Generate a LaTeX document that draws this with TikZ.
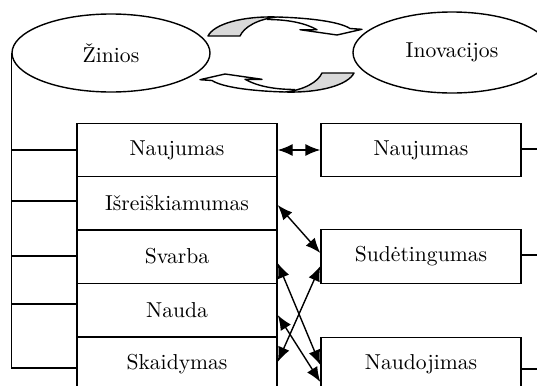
\documentclass[tikz,border=0pt]{standalone}
\usepackage{fontspec}
\usetikzlibrary{shapes.geometric,arrows.meta}
\begin{document}
\begin{tikzpicture}[x=0.5pt,y=-0.5pt,line width=0.7pt,
    every node/.style={font=\fontsize{10.8}{13}\selectfont},
    cell/.style={draw,minimum width=100pt,minimum height=26.75pt,inner sep=0pt},
    blob/.style={draw,ellipse,minimum width=99pt,minimum height=39pt,inner sep=0pt},
    link/.style={{Latex[length=7.5pt,width=6pt]}-{Latex[length=7.5pt,width=6pt]}}]
        \clip (0,0) rectangle (537,386);

        % Circular arrows
        \foreach \turn in {0,180}{
            \begin{scope}[rotate around={\turn:(281,54.5)}]
                \filldraw[fill=gray!30,line join=round] (208,36) .. controls (214,24) and (242,16) .. (277,17)
                    .. controls (258,19) and (244,27) .. (240,36) -- cycle;
                \draw[line join=round] (277,17) .. controls (312,18) and (340,22) .. (350,28.5) -- (362,29.3)
                    -- (337,35) -- (300,29.7) -- (317,29.7) .. controls (305,23) and (288,19.5) .. (267,19.5);
            \end{scope}
        }

        % Ellipses
        \node[blob] (zinios) at (111,53) {Žinios};
        \node[blob,minimum height=40.5pt] (inov) at (452,52.5) {Inovacijos};

        % Knowledge boxes
        \node[cell] (kn1) at (177,150) {Naujumas};
        \node[cell] (kn2) at (177,203.5) {Išreiškiamumas};
        \node[cell] (kn3) at (177,256.5) {Svarba};
        \node[cell] (kn4) at (177,310) {Nauda};
        \node[cell] (kn5) at (177,364) {Skaidymas};

        % Innovation boxes
        \node[cell] (in1) at (421,150) {Naujumas};
        \node[cell] (in2) at (421,256.5) {Sudėtingumas};
        \node[cell] (in3) at (421,364) {Naudojimas};

        % Left bracket
        \draw (zinios.west) -- (zinios.west |- 0,368);
        \foreach \k/\y in {1/150,2/201,3/256,4/304,5/368}
            \draw (zinios.west |- 0,\y) -- (kn\k.west |- 0,\y);

        % Right stubs
        \foreach \k/\y in {1/149,2/255,3/369}
            \draw (in\k.east |- 0,\y) -- ++(20,0);

        % Links
        \draw[link] (kn1.east) -- (in1.west);
        \draw[link] ([yshift=-0.75pt]kn2.east) -- ([yshift=1.75pt]in2.west);
        \draw[link] ([yshift=-3.25pt]kn3.east) -- ([yshift=-0.5pt]in3.west);
        \draw[link] ([yshift=-2.5pt]kn4.east) -- ([yshift=-9pt]in3.west);
        \draw[link] ([yshift=-4.75pt]in2.west) -- ([yshift=1pt]kn5.east);
    \end{tikzpicture}
\end{document}
